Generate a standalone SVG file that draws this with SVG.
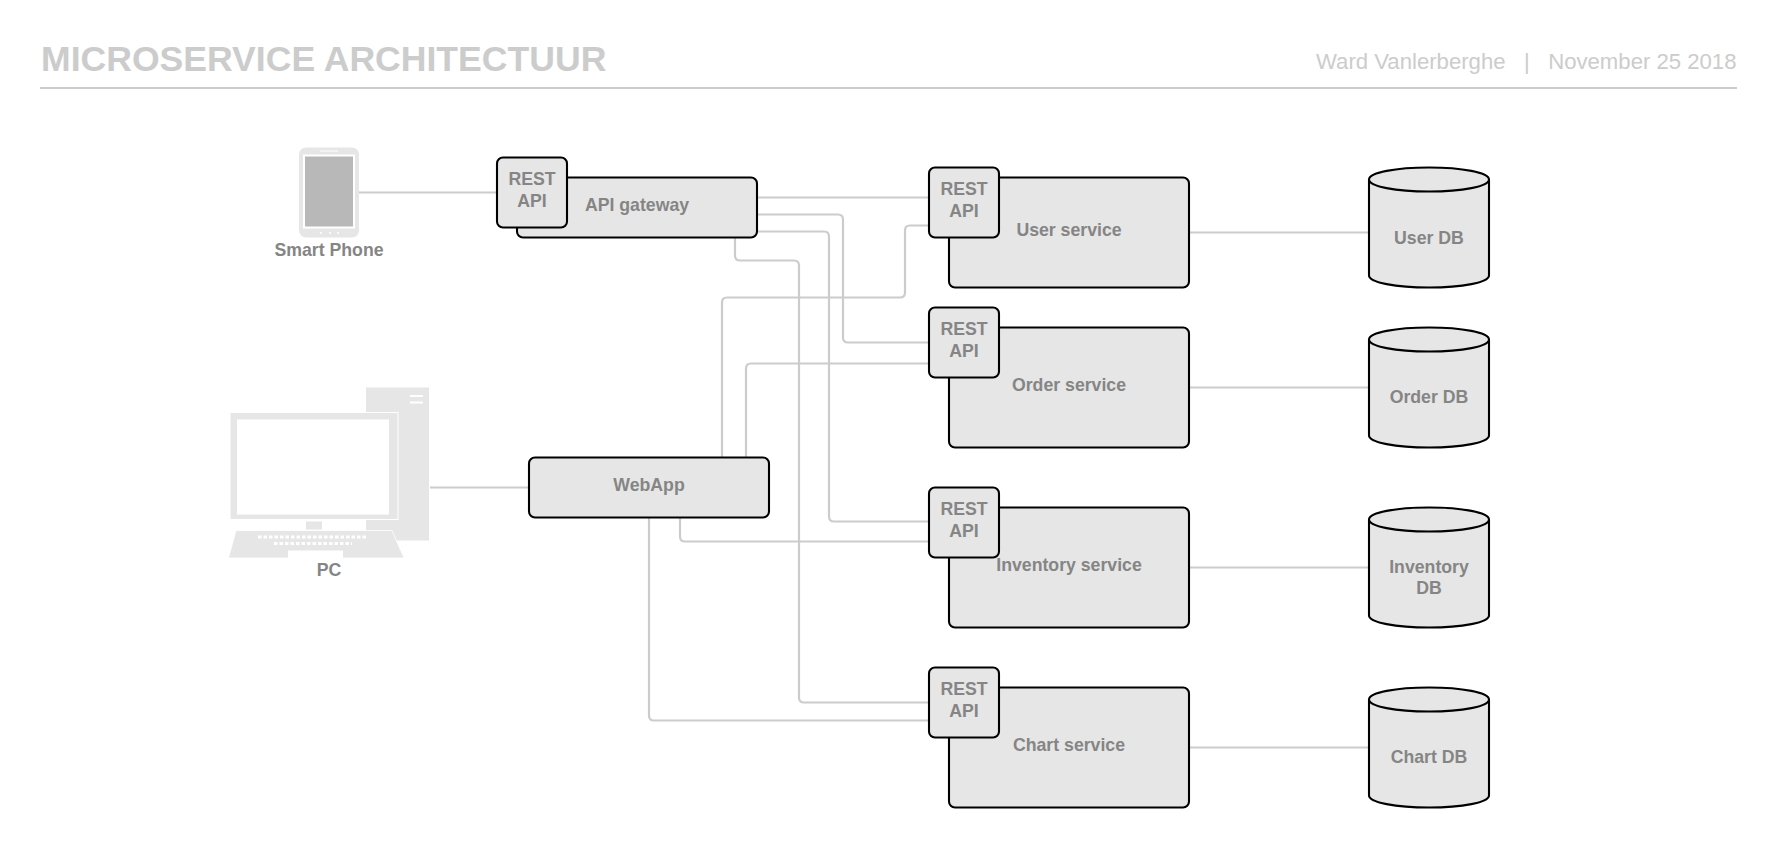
<svg xmlns="http://www.w3.org/2000/svg" width="1777" height="848" viewBox="0 0 1777 848">
<style>
text{font-family:"Liberation Sans",Arial,sans-serif}
.t{font-size:17.7px;font-weight:700;fill:#858585;text-anchor:middle}
.b{fill:#e6e6e6;stroke:#000;stroke-width:2.100}
.c{fill:none;stroke:#ccc;stroke-width:2.200}
.i{fill:#e6e6e6}
</style>
<defs>
<g id="rest"><rect class="b" x="0" y="0" width="70" height="70" rx="6"/><text class="t" x="35" y="27.700">REST</text><text class="t" x="35" y="49">API</text></g>
<path id="cyl" class="b" d="M1369 12V108C1369 115 1396 120 1429 120S1489 115 1489 108V12C1489 5 1462 0 1429 0S1369 5 1369 12C1369 19 1396 24 1429 24S1489 19 1489 12"/>
</defs>
<rect width="1777" height="848" fill="#fff"/>
<g id="header">
<text x="41" y="71" font-size="35.600" font-weight="700" fill="#ccc">MICROSERVICE ARCHITECTUUR</text>
<text x="1736.500" y="68.500" font-size="22.150" fill="#ccc" text-anchor="end" xml:space="preserve">Ward Vanlerberghe   |   November 25 2018</text>
<path d="M40 88H1737" class="c"/>
</g>
<g transform="translate(0 -0.500)">
<g id="connectors">
<path class="c" d="M359 193H497"/>
<path class="c" d="M430 488H529"/>
<path class="c" d="M757 198H929"/>
<path class="c" d="M757 215H838Q843 215 843 220V338Q843 343 848 343H929"/>
<path class="c" d="M757 232H824Q829 232 829 237V517Q829 522 834 522H929"/>
<path class="c" d="M735 238V256Q735 261 740 261H794Q799 261 799 266V698Q799 703 804 703H929"/>
<path class="c" d="M722 458V303Q722 298 727 298H900Q905 298 905 293V231Q905 226 910 226H929"/>
<path class="c" d="M746 458V369Q746 364 751 364H929"/>
<path class="c" d="M680 518V537Q680 542 685 542H929"/>
<path class="c" d="M649 518V716Q649 721 654 721H929"/>
<path class="c" d="M1189 233H1369"/>
<path class="c" d="M1189 388H1369"/>
<path class="c" d="M1189 568H1369"/>
<path class="c" d="M1189 748H1369"/>
</g>
<g id="smart-phone">
<rect class="i" x="299" y="148" width="60" height="90" rx="7"/>
<rect x="304" y="156" width="50" height="72" fill="#b8b8b8" stroke="#fff" stroke-width="2"/>
<path d="M320 151.500H338" stroke="#fff" stroke-width="1"/>
<path d="M320 233.500h2M329 233.500h2M337 233.500h2" stroke="#fff" stroke-width="1.500"/>
<text class="t" x="329" y="256.500">Smart Phone</text>
</g>
<g id="pc">
<rect class="i" x="366" y="388" width="63" height="153"/>
<path d="M410 396.500H423M410 403H423" stroke="#fff" stroke-width="2"/>
<rect class="i" x="230" y="413" width="168" height="107" stroke="#fff" stroke-width="1"/>
<rect x="237" y="420" width="152" height="95" fill="#fff"/>
<rect class="i" x="306" y="522" width="16" height="8"/>
<rect class="i" x="366" y="522" width="32" height="8"/>
<path d="M236 531H392L404 558.500H228.500Z" class="i" stroke="#fff" stroke-width="0.800"/>
<rect x="288" y="551" width="55" height="7.500" fill="#fff"/>
<path d="M258 537.500H367M274 544H352" stroke="#fff" stroke-width="3" stroke-dasharray="3.500 2"/>
<text class="t" x="329" y="576.500">PC</text>
</g>
<g id="api-gateway"><rect class="b" x="517" y="178" width="240" height="60" rx="6"/><text class="t" x="637" y="211.500">API gateway</text><use href="#rest" x="497" y="158"/></g>
<g id="webapp"><rect class="b" x="529" y="458" width="240" height="60" rx="6"/><text class="t" x="649" y="491.500">WebApp</text></g>
<g id="user-service"><rect class="b" x="949" y="178" width="240" height="110" rx="6"/><text class="t" x="1069" y="236.800">User service</text><use href="#rest" x="929" y="168"/></g>
<g id="order-service"><rect class="b" x="949" y="328" width="240" height="120" rx="6"/><text class="t" x="1069" y="391.500">Order service</text><use href="#rest" x="929" y="308"/></g>
<g id="inventory-service"><rect class="b" x="949" y="508" width="240" height="120" rx="6"/><text class="t" x="1069" y="571.500">Inventory service</text><use href="#rest" x="929" y="488"/></g>
<g id="chart-service"><rect class="b" x="949" y="688" width="240" height="120" rx="6"/><text class="t" x="1069" y="751.500">Chart service</text><use href="#rest" x="929" y="668"/></g>
<g id="user-db"><use href="#cyl" y="168"/><text class="t" x="1429" y="244">User DB</text></g>
<g id="order-db"><use href="#cyl" y="328"/><text class="t" x="1429" y="403.500">Order DB</text></g>
<g id="inventory-db"><use href="#cyl" y="508"/><text class="t" x="1429" y="573">Inventory</text><text class="t" x="1429" y="594">DB</text></g>
<g id="chart-db"><use href="#cyl" y="688"/><text class="t" x="1429" y="763.500">Chart DB</text></g>
</g>
</svg>
